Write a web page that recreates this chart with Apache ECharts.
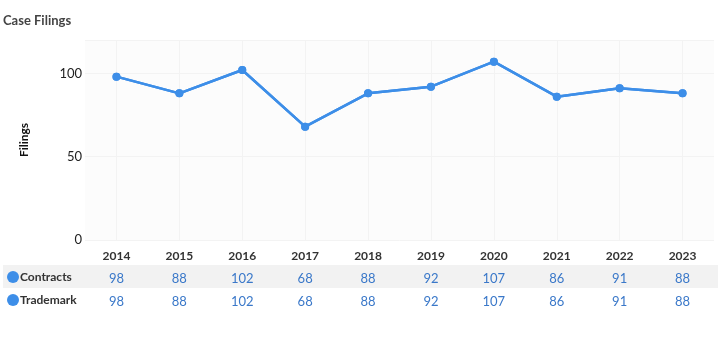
<!DOCTYPE html>
<html><head><meta charset="utf-8">
<script src="https://cdn.jsdelivr.net/npm/echarts@6/dist/echarts.min.js"></script>
<style>html,body{margin:0;padding:0;background:#fff}#c{width:718px;height:356px}</style>
</head><body><div id="c"></div>
<script>
const categories = ['2014','2015','2016','2017','2018','2019','2020','2021','2022','2023'];
const contracts = [98, 88, 102, 68, 88, 92, 107, 86, 91, 88];
const trademark = [98, 88, 102, 68, 88, 92, 107, 86, 91, 88];
const yTicks = [0, 50, 100];

const chart = echarts.init(document.getElementById('c'));
const font = 'Lato';
const blue = '#3d8ee8';
chart.setOption({
  animation: false,
  textStyle: {fontFamily: font},
  title: {text: 'Case Filings', left: 3, top: 14, padding: 0, textStyle: {fontFamily: font, fontSize: 13, fontWeight: 'bold', color: '#444'}},
  legend: {
    orient: 'vertical', left: 7, top: 271, itemGap: 11, icon: 'circle', itemWidth: 12, itemHeight: 12, padding: 0,
    textStyle: {fontFamily: font, fontSize: 12, fontWeight: 'bold', color: '#333', padding: [0,0,0,-4]},
    data: ['Contracts', 'Trademark']
  },
  graphic: [{type: 'rect', left: 3, top: 265, shape: {width: 715, height: 23}, style: {fill: '#f2f2f2'}, z: -1}],
  grid: {left: 85, right: 4, top: 40, bottom: 116, show: true, backgroundColor: '#fcfcfc', borderWidth: 0},
  xAxis: [
    {type: 'category', data: categories, axisLine: {show: false}, axisTick: {show: false},
     splitLine: {show: true, alignWithLabel: true, lineStyle: {color: '#f3f3f3'}},
     axisLabel: {margin: 10, fontSize: 12, fontWeight: 'bold', color: '#333', fontFamily: font}},
    {type: 'category', data: categories, position: 'bottom', offset: 24, axisLine: {show: false}, axisTick: {show: false},
     axisLabel: {fontSize: 13, color: '#3a78c9', fontFamily: font, formatter: (v, i) => String(contracts[i])}},
    {type: 'category', data: categories, position: 'bottom', offset: 47, axisLine: {show: false}, axisTick: {show: false},
     axisLabel: {fontSize: 13, color: '#3a78c9', fontFamily: font, formatter: (v, i) => String(trademark[i])}}
  ],
  yAxis: {
    type: 'value', min: 0, max: 120, interval: 50,
    name: 'Filings', nameLocation: 'middle', nameGap: 55, nameRotate: 90,
    nameTextStyle: {fontFamily: font, fontSize: 12, fontWeight: 'bold', color: '#111'},
    axisLine: {show: false}, axisTick: {show: false},
    splitLine: {lineStyle: {color: '#f3f3f3'}},
    axisLabel: {margin: 3, fontSize: 13, color: '#222', fontFamily: font, showMaxLabel: false,
      formatter: v => yTicks.includes(v) ? String(v) : ''}
  },
  series: [
    {name: 'Contracts', type: 'line', data: contracts, color: blue, symbol: 'circle', symbolSize: 8, lineStyle: {width: 2.5}},
    {name: 'Trademark', type: 'line', data: trademark, color: blue, symbol: 'circle', symbolSize: 8, lineStyle: {width: 2.5}}
  ]
});
</script></body></html>
